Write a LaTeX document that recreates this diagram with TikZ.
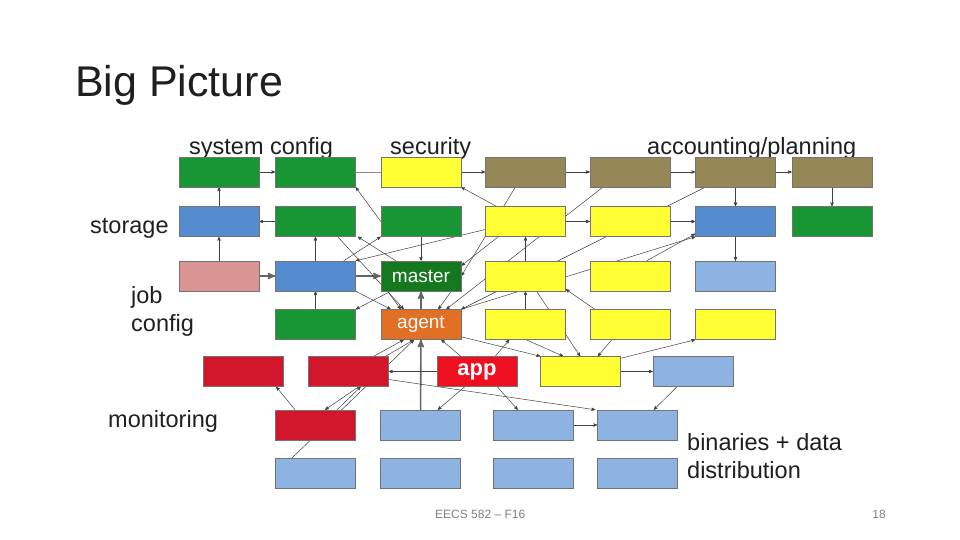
\documentclass[tikz,border=0pt]{standalone}
\usepackage{fontspec}
\setmainfont{Liberation Sans}
\usepackage{tikz}
\usetikzlibrary{arrows,positioning,backgrounds}
\definecolor{cfggreen}{RGB}{24,150,52}
\definecolor{secyellow}{RGB}{255,255,51}
\definecolor{acctolive}{RGB}{149,135,86}
\definecolor{storblue}{RGB}{85,140,208}
\definecolor{binblue}{RGB}{141,179,226}
\definecolor{jobpink}{RGB}{217,148,148}
\definecolor{mastergreen}{RGB}{22,120,30}
\definecolor{agentorange}{RGB}{226,112,36}
\definecolor{monred}{RGB}{210,22,44}
\definecolor{appred}{RGB}{238,16,32}
\tikzset{
    %Define standard arrow tip
    >=stealth',
    %Define style for boxes
    blk/.style={
           rectangle,
           draw=black!55, line width=0.5pt,
           minimum width=80pt,
           minimum height=30pt,
           inner sep=0pt},
    cfg/.style={blk, fill=cfggreen},
    sec/.style={blk, fill=secyellow},
    acct/.style={blk, fill=acctolive},
    stor/.style={blk, fill=storblue},
    bin/.style={blk, fill=binblue},
    jobbox/.style={blk, fill=jobpink},
    mon/.style={blk, fill=monred},
    named/.style={
           blk,
           text=white,
           font=\fontsize{19}{22}\selectfont},
    lbl/.style={
           anchor=base west,
           inner sep=0pt,
           text=black!88,
           font=\fontsize{23.5}{28}\selectfont},
    foot/.style={
           inner sep=0pt,
           text=black!50,
           font=\fontsize{12}{14}\selectfont},
    % Define arrow style
    pil/.style={
           ->,
           line width=0.5pt,
           draw=black!75},
    fat/.style={
           ->,
           line width=1.6pt,
           draw=black!60}
}
\begin{document}
\begin{tikzpicture}[x=1pt,y=-1pt]
\useasboundingbox (0,0) rectangle (960,540);
 %titles and labels
\node[lbl, font=\fontsize{43}{50}\selectfont] (ttl) at (75,97) {Big Picture};
\node[lbl] (lsys) at (189,155) {system config};
\node[lbl] (lsec) at (390,155) {security};
\node[lbl] (lacc) at (647,155) {accounting/planning};
\node[lbl] (lsto) at (90,233) {storage};
\node[lbl] (ljob) at (131,303) {job};
\node[lbl] (lcfg) at (131,331) {config};
\node[lbl] (lmon) at (108,427) {monitoring};
\node[lbl] (lbin) at (687,450) {binaries + data};
\node[lbl] (ldis) at (687,478) {distribution};
\node[foot, anchor=base west] (ffoot) at (435,518) {EECS 582 -- F16};
\node[foot, anchor=base east] (fpage) at (886,518) {18};
 %row 1
\node[cfg] (A1) at (219,172) {};
\node[cfg, right=16pt of A1] (A2) {};
\node[sec, right=25pt of A2] (A3) {};
\node[acct, right=24pt of A3] (A4) {};
\node[acct, right=24pt of A4] (A5) {};
\node[acct, right=25pt of A5] (A6) {};
\node[acct, right=16pt of A6] (A7) {};
 %row 2
\node[stor, below=19pt of A1] (B1) {};
\node[cfg, below=19pt of A2] (B2) {};
\node[cfg, below=19pt of A3] (B3) {};
\node[sec, below=19pt of A4] (B4) {};
\node[sec, below=19pt of A5] (B5) {};
\node[stor, below=19pt of A6] (B6) {};
\node[cfg, below=19pt of A7] (B7) {};
 %row 3
\node[jobbox, below=24pt of B1] (C1) {};
\node[stor, below=24pt of B2] (C2) {};
\node[named, fill=mastergreen, below=24pt of B3] (C3) {master};
\node[sec, below=24pt of B4] (C4) {};
\node[sec, below=24pt of B5] (C5) {};
\node[bin, below=24pt of B6] (C6) {};
 %row 4
\node[cfg, below=18pt of C2] (D2) {};
\node[named, fill=agentorange, below=18pt of C3] (D3) {agent};
\node[sec, below=18pt of C4] (D4) {};
\node[sec, below=18pt of C5] (D5) {};
\node[sec, below=18pt of C6] (D6) {};
 %row 5
\node[mon] (E1) at (243,371.5) {};
\node[mon, right=25pt of E1] (E2) {};
\node[named, fill=appred, font=\fontsize{22}{26}\selectfont\bfseries, right=48pt of E2] (app) {app};
\node[sec, right=23pt of app] (E4) {};
\node[bin, right=32pt of E4] (E5) {};
 %rows 6 and 7
\node[mon] (F1) at (315,425) {};
\node[bin, right=25pt of F1] (F2) {};
\node[bin, right=32pt of F2] (F3) {};
\node[bin, right=24pt of F3] (F4) {};
\node[bin, below=18pt of F1] (G1) {};
\node[bin, below=18pt of F2] (G2) {};
\node[bin, below=18pt of F3] (G3) {};
\node[bin, below=18pt of F4] (G4) {};
 %connectors
\begin{scope}[on background layer]
\draw[pil] (A1) -- (A2);
\draw[line width=0.5pt, draw=black!45] (A2) -- (A3);
\draw[pil] (A3) -- (A4);
\draw[pil] (A4) -- (A5);
\draw[pil] (A5) -- (A6);
\draw[pil] (A6) -- (A7);
\draw[pil] (B1) -- (A1);
\draw[pil] (C1) -- (B1);
\draw[pil] (B2) -- (B1);
\draw[fat] (C1) -- (C2);
\draw[pil] (C2) -- (B2);
\draw[fat] (C2) -- (C3);
\draw[pil] (D2) -- (C2);
\draw[pil] (B3) -- (C3);
\draw[fat] (D3) -- (C3);
\draw[fat] (F2) -- (D3);
\draw[pil] (A6) -- (B6);
\draw[pil] (A7) -- (B7);
\draw[pil] (B6) -- (C6);
\draw[pil] (B4) -- (B5);
\draw[pil] (B5) -- (B6);
\draw[pil] (C4) -- (B4);
\draw[pil] (D4) -- (C4);
\draw[pil] (E4) -- (E5);
\draw[pil] (F3) -- (F4);
\draw[pil] (app) -- (E2);
\draw[pil] (B3.west) -- (A2.south east);
\draw[pil] ([xshift=11pt]B4.north west) -- (A3.south east);
\draw[pil] ([xshift=30pt]A4.south west) -- (C3.east);
\draw[pil] ([xshift=13pt]A5.south west) -- ([xshift=-15pt]D3.north east);
\draw[pil] ([xshift=10pt]A6.south west) -- (D3.north east);
\draw[pil] ([xshift=13pt]B4.south west) -- ([yshift=-5pt]C3.north east);
\draw[pil] ([yshift=-8pt]B4.west) -- (C2.north east);
\draw[pil] ([xshift=-12pt]C2.north east) -- (B3.south west);
\draw[pil] ([xshift=15pt]C3.north west) -- ([xshift=2pt]B2.south east);
\draw[pil] ([xshift=-18pt]B2.south east) -- ([xshift=23pt]D3.north west);
\draw[pil] (C2.south east) -- ([xshift=10pt]D3.north west);
\draw[pil] ([xshift=7pt]C3.south west) -- ([xshift=20pt]D3.north west);
\draw[pil] ([xshift=10pt]C3.south west) -- (D2.north east);
\draw[pil] ([xshift=-10pt]C3.south east) -- ([xshift=-23pt]D3.north east);
\draw[pil] (D3.north east) -- (B6.south west);
\draw[pil] ([xshift=57pt]C5.north west) -- ([yshift=3pt]B6.south west);
\draw[pil] ([xshift=5pt]D5.north west) -- ([yshift=2pt]C4.south east);
\draw[pil] ([xshift=-15pt]E2.north east) -- ([xshift=23pt]D3.south west);
\draw[pil] ([xshift=-3pt]E2.north east) -- ([xshift=33pt]D3.south west);
\draw[pil] ([xshift=17pt]G1.north west) -- ([xshift=-7pt]D3.south);
\draw[pil] ([xshift=24pt]app.north west) -- ([xshift=-20pt]D3.south east);
\draw[pil] ([yshift=-8pt]E2.east) -- ([xshift=-2pt]F4.north west);
\draw[pil] ([xshift=-30pt]E2.south east) -- ([xshift=10pt]F1.north);
\draw[pil] ([xshift=22pt]F1.north) -- ([xshift=-28pt]E2.south east);
\draw[pil] ([xshift=-20pt]F1.north) -- ([xshift=-7pt]E1.south east);
\draw[pil] ([xshift=28pt]app.south west) -- ([xshift=-23pt]F2.north east);
\draw[pil] ([xshift=-20pt]app.south east) -- ([xshift=25pt]F3.north west);
\draw[pil] ([xshift=-22pt]app.north east) -- ([xshift=24pt]D4.south west);
\draw[pil] ([yshift=3pt]D3.south east) -- (E4.north west);
\draw[pil] ([xshift=41pt]D4.south west) -- ([xshift=23pt]E4.north west);
\draw[pil] ([xshift=11pt]C4.south) -- ([xshift=40pt]E4.north west);
\draw[pil] ([xshift=22pt]D5.south west) -- ([xshift=-23pt]E4.north east);
\draw[pil] ([yshift=-2pt]E4.north east) -- (D6.south west);
\draw[pil] ([xshift=-16pt]E5.south) -- ([xshift=-24pt]F4.north east);
\end{scope}
\end{tikzpicture}
\end{document}
